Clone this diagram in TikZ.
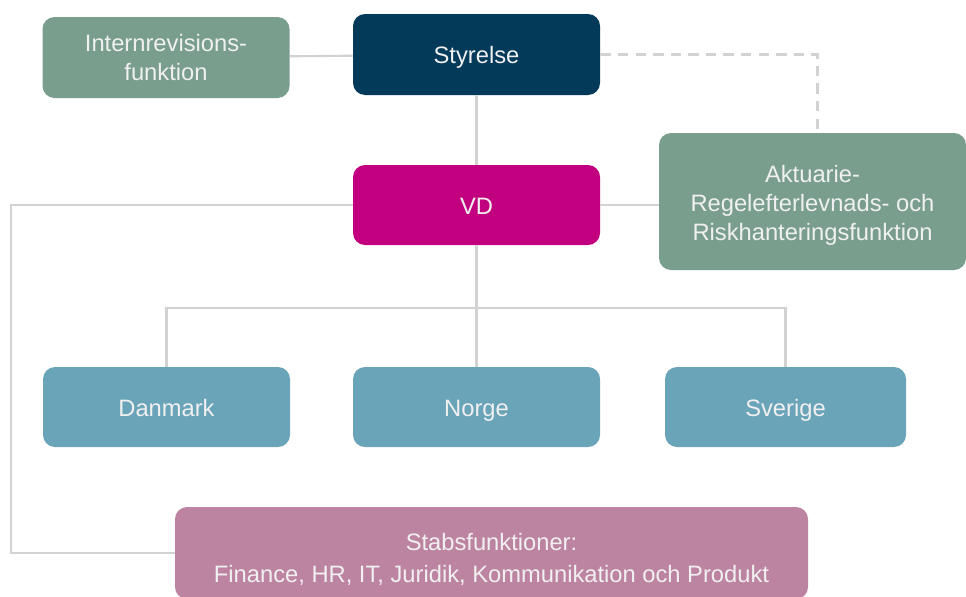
\documentclass[tikz,border=0pt]{standalone}
\usepackage{fontspec}
\setmainfont{Liberation Sans}
\usepackage{tikz}
\usetikzlibrary{positioning}
\usetikzlibrary{calc}
\definecolor{navy}{HTML}{033A5A}
\definecolor{sage}{HTML}{7A9E8E}
\definecolor{vdpink}{HTML}{C2007F}
\definecolor{landblue}{HTML}{6AA4B9}
\definecolor{mauve}{HTML}{BD84A2}
\definecolor{linegray}{HTML}{D2D2D2}
\begin{document}
\begin{tikzpicture}[box/.style={rounded corners=0.24cm,text=white!94!black,align=center,minimum width=4.94cm,minimum height=1.62cm,inner sep=0pt,font=\fontsize{13.5}{16.5}\selectfont},
    one/.style={text height=2.2ex,text depth=0.2ex},
    wire/.style={linegray,line width=1.2pt}]
    \useasboundingbox (0,0) rectangle (19.32,-11.92);
    \node[box,fill=sage] (intern) at (3.32,-1.15) {Internrevisions-\\funktion};
    \node[box,one,fill=navy] (styrelse) at (9.53,-1.09) {Styrelse};
    \node[box,one,fill=vdpink,minimum height=1.6cm] (vd) at (9.53,-4.10) {VD};
    \node[box,fill=sage,minimum width=6.14cm,minimum height=2.74cm] (akt) at (16.25,-4.03) {\rule{0pt}{2.05ex}Aktuarie-\\Regelefterlevnads- och\\Riskhanteringsfunktion};
    \node[box,one,fill=landblue,minimum height=1.6cm] (danmark) at (3.33,-8.14) {Danmark};
    \node[box,one,fill=landblue,minimum height=1.6cm] (norge) at (9.53,-8.14) {Norge};
    \node[box,one,fill=landblue,minimum height=1.6cm,minimum width=4.82cm] (sverige) at (15.71,-8.14) {Sverige};
    \node[box,fill=mauve,minimum width=12.66cm,minimum height=1.84cm,font=\fontsize{13.5}{18}\selectfont] (stabs) at (9.83,-11.06) {\rule{0pt}{2.4ex}Stabsfunktioner:\\Finance, HR, IT, Juridik, Kommunikation och Produkt};
    \coordinate (bus) at (9.53,-6.16);
    \coordinate (lft) at (0.22,-4.10);
    \draw[wire] (intern) -- (styrelse);
    \draw[wire] (styrelse) -- (vd);
    \draw[wire,dash pattern=on 6pt off 4pt] (styrelse.east) -| ([xshift=0.1cm]akt.north);
    \draw[wire] (vd.east) -- (vd.east -| akt.west);
    \draw[wire] (vd.south) -- (norge.north);
    \draw[wire] (danmark.north) |- (bus) -| (sverige.north);
    \draw[wire] (vd.west) -- (lft) |- (stabs.west);
\end{tikzpicture}
\end{document}
